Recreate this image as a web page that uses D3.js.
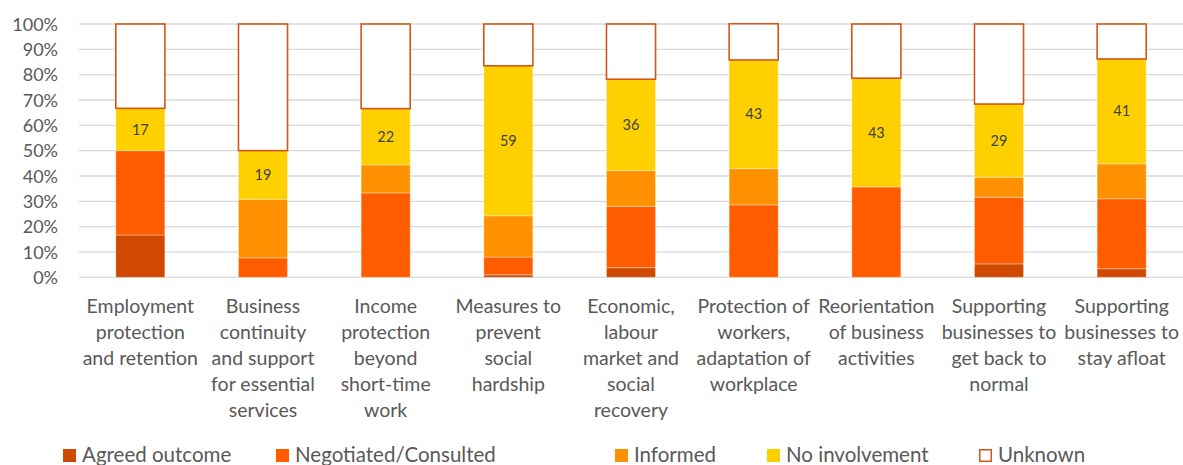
<!DOCTYPE html>
<html><head><meta charset="utf-8">
<script src="https://cdn.jsdelivr.net/npm/d3@7"></script>
<style>
html,body{margin:0;padding:0;background:#fff;}
svg{display:block;font-family:Lato, "Open Sans", sans-serif;}
</style></head>
<body>
<svg id="chart" width="1183" height="465"></svg>
<script>
const categories = [
  "Employment\nprotection\nand retention",
  "Business\ncontinuity\nand support\nfor essential\nservices",
  "Income\nprotection\nbeyond\nshort-time\nwork",
  "Measures to\nprevent\nsocial\nhardship",
  "Economic,\nlabour\nmarket and\nsocial\nrecovery",
  "Protection of\nworkers,\nadaptation of\nworkplace",
  "Reorientation\nof business\nactivities",
  "Supporting\nbusinesses to\nget back to\nnormal",
  "Supporting\nbusinesses to\nstay afloat"
];
const seriesNames = ["Agreed outcome", "Negotiated/Consulted", "Informed", "No involvement", "Unknown"];
const agreed      = [16.7, 0,    0,    1.0,  3.8, 0,    0,    5.3,  3.4];
const negotiated  = [33.3, 7.7,  33.3, 7.0,  24.2, 28.6, 35.7, 26.3, 27.6];
const informed    = [0,    23.1, 11.1, 16.3, 14.2, 14.3, 0,    7.9,  13.8];
const noInvolve   = [16.7, 19.2, 22.2, 59.2, 36.0, 42.9, 42.9, 28.9, 41.4];
const unknown     = [33.3, 50.0, 33.4, 16.5, 21.8, 14.3, 21.4, 31.6, 13.8];
const yTicks = [0,10,20,30,40,50,60,70,80,90,100];

const colors = ["#cf4a00", "#ff5c00", "#ff9100", "#ffd000", "#ffffff"];
const series = [agreed, negotiated, informed, noInvolve, unknown];

const svg = d3.select("#chart");
const x = d3.scaleBand().domain(d3.range(categories.length)).range([79, 1183]).paddingInner(0.6).paddingOuter(0.3);
const y = d3.scaleLinear().domain([0, 100]).range([277.3, 24]);

// gridlines
svg.append("g").selectAll("line").data(yTicks).join("line")
  .attr("x1", 79).attr("x2", 1183)
  .attr("y1", d => y(d)).attr("y2", d => y(d))
  .attr("stroke", "#d9d9d9").attr("stroke-width", 1.3);

// y axis labels
const yAxis = d3.axisLeft(y).tickValues(yTicks).tickFormat(d => d + "%").tickSize(0).tickPadding(0);
const ya = svg.append("g").attr("transform", "translate(58,0)").call(yAxis);
ya.select(".domain").remove();
ya.selectAll("text").attr("font-size", 18).attr("fill", "#595959").attr("font-family", "Lato, sans-serif").attr("dy", "0.35em");

// stacked bars
const rows = categories.map((c, i) => {
  const r = {i};
  seriesNames.forEach((s, k) => r[s] = series[k][i]);
  return r;
});
const stacked = d3.stack().keys(seriesNames)(rows);
stacked.forEach((layer, k) => {
  const g = svg.append("g");
  g.selectAll("rect").data(layer).join("rect")
    .attr("x", d => x(d.data.i))
    .attr("width", x.bandwidth())
    .attr("y", d => y(d[1]))
    .attr("height", d => Math.max(0, y(d[0]) - y(d[1])))
    .attr("fill", colors[k])
    .attr("stroke", k === 4 ? "#d0561a" : "#ffffff")
    .attr("stroke-opacity", k === 4 ? 1 : 0.35)
    .attr("stroke-width", k === 4 ? 1.6 : 1)
    .attr("display", d => d[1] - d[0] > 0 ? null : "none");
});

// data labels on No involvement
const ni = stacked[3];
svg.append("g").selectAll("text").data(ni).join("text")
  .attr("x", d => x(d.data.i) + x.bandwidth() / 2)
  .attr("y", d => y((d[0] + d[1]) / 2))
  .attr("dy", "0.35em")
  .attr("text-anchor", "middle")
  .attr("font-size", 14.5)
  .attr("fill", "#404040")
  .text(d => Math.round(d[1] - d[0]));

// category labels
const cg = svg.append("g");
categories.forEach((c, i) => {
  const t = cg.append("text")
    .attr("x", x(i) + x.bandwidth() / 2)
    .attr("y", 313)
    .attr("text-anchor", "middle")
    .attr("font-size", 19.5)
    .attr("fill", "#595959");
  c.split("\n").forEach((line, j) => {
    t.append("tspan").attr("x", x(i) + x.bandwidth() / 2).attr("y", 313 + j * 26).text(line);
  });
});

// legend
const legendX = [63, 276, 615, 767, 979];
const lg = svg.append("g");
seriesNames.forEach((s, k) => {
  lg.append("rect")
    .attr("x", legendX[k] + (k === 4 ? 0.75 : 0)).attr("y", 449 + (k === 4 ? 0.75 : 0))
    .attr("width", k === 4 ? 11.5 : 13).attr("height", k === 4 ? 11.5 : 13)
    .attr("fill", colors[k])
    .attr("stroke", k === 4 ? "#d0561a" : "none")
    .attr("stroke-width", 1.5);
  lg.append("text")
    .attr("x", legendX[k] + 19).attr("y", 462)
    .attr("font-size", 20.5)
    .attr("fill", "#595959")
    .text(s);
});
</script>
</body></html>
